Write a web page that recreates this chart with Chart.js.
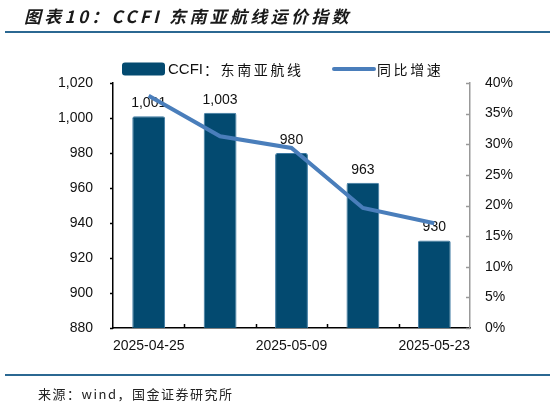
<!DOCTYPE html>
<html>
<head>
<meta charset="utf-8">
<script src="https://cdn.jsdelivr.net/npm/chart.js@4/dist/chart.umd.min.js"></script>
<style>
  html, body { margin: 0; padding: 0; background: #fff; }
  body { width: 550px; height: 406px; position: relative; overflow: hidden; }
  #title { position: absolute; left: 24px; top: 3px; font-family: "Noto Sans CJK SC", sans-serif; font-weight: bold; font-style: italic; font-size: 17px; letter-spacing: 3.3px; color: #1a1a1a; white-space: nowrap; }
  .rule { position: absolute; left: 5px; width: 545px; height: 2px; background: #2B6892; }
  #src { position: absolute; left: 38px; top: 384px; font-family: "Noto Sans CJK SC", sans-serif; font-size: 13px; letter-spacing: 1.5px; color: #222; white-space: nowrap; }
  #wrap { position: absolute; left: 0; top: 0; width: 550px; height: 406px; }
</style>
</head>
<body>
<div id="wrap"><canvas id="c"></canvas></div>
<div id="title">图表10：CCFI 东南亚航线运价指数</div>
<div class="rule" style="top:31px"></div>
<div class="rule" style="top:374px"></div>
<div id="src">来源：wind，国金证券研究所</div>
<script>
const categories = ['2025-04-25', '2025-05-02', '2025-05-09', '2025-05-16', '2025-05-23'];
const ccfiValues = [1001, 1003, 980, 963, 930];
const yoyValues = [37.9, 31.3, 29.4, 19.6, 17.1];
const leftTicks = [880, 900, 920, 940, 960, 980, 1000, 1020];
const rightTicks = [0, 5, 10, 15, 20, 25, 30, 35, 40];
const barName = 'CCFI：东南亚航线';
const lineName = '同比增速';

const BAR = '#034A70';
const LINE = '#4A7EBB';
const tickFont = { family: '"Liberation Sans", Arial, sans-serif', size: 14 };

const fmt = v => v.toLocaleString('en-US');

const decor = {
  id: 'decor',
  afterDatasetDraw(chart, args) {
    if (args.index !== 0) return;
    const ctx = chart.ctx;
    const meta = chart.getDatasetMeta(0);
    ctx.save();
    ctx.font = '14px "Liberation Sans", Arial, sans-serif';
    ctx.fillStyle = '#111';
    ctx.textAlign = 'center';
    ctx.textBaseline = 'bottom';
    meta.data.forEach((el, i) => {
      ctx.fillText(fmt(ccfiValues[i]), el.x, el.y - 6);
    });
    ctx.restore();
  },
  afterDraw(chart) {
    const ctx = chart.ctx;
    const ya = chart.scales.y, yb = chart.scales.y1, xs = chart.scales.x;
    const area = chart.chartArea;
    ctx.save();
    ctx.strokeStyle = '#000'; ctx.lineWidth = 1.5;
    leftTicks.forEach(v => {
      const y = Math.round(ya.getPixelForValue(v)) + 0.5;
      ctx.beginPath(); ctx.moveTo(area.left - 3, y); ctx.lineTo(area.left, y); ctx.stroke();
    });
    ctx.strokeStyle = '#999'; ctx.lineWidth = 1.5;
    rightTicks.forEach(v => {
      const y = Math.round(yb.getPixelForValue(v)) + 0.5;
      ctx.beginPath(); ctx.moveTo(area.right - 4, y); ctx.lineTo(area.right, y); ctx.stroke();
    });
    ctx.strokeStyle = '#000'; ctx.lineWidth = 1.5;
    for (let i = 0; i < categories.length - 1; i++) {
      const x = Math.round(xs.getPixelForValue(i + 0.5)) + 0.5;
      ctx.beginPath(); ctx.moveTo(x, area.bottom); ctx.lineTo(x, area.bottom - 4); ctx.stroke();
    }
    ctx.fillStyle = BAR;
    ctx.beginPath();
    if (ctx.roundRect) ctx.roundRect(122, 62.5, 43, 13, 3); else ctx.rect(122, 62.5, 43, 13);
    ctx.fill();
    ctx.strokeStyle = LINE; ctx.lineWidth = 4; ctx.lineCap = 'round';
    ctx.beginPath(); ctx.moveTo(334, 69); ctx.lineTo(374, 69); ctx.stroke();
    ctx.fillStyle = '#111';
    ctx.textBaseline = 'middle';
    ctx.textAlign = 'left';
    ctx.font = '15px "Liberation Sans", Arial, sans-serif';
    ctx.fillText('CCFI', 168, 69.5);
    ctx.font = '14px "Noto Sans CJK SC", sans-serif';
    const barChars = Array.from(barName.slice(4));
    barChars.forEach((ch, i) => ctx.fillText(ch, 204 + i * 16.6, 69.5));
    Array.from(lineName).forEach((ch, i) => ctx.fillText(ch, 377 + i * 16.6, 69.5));
    ctx.restore();
  }
};

new Chart(document.getElementById('c'), {
  data: {
    labels: categories,
    datasets: [
      {
        type: 'bar', label: barName, data: ccfiValues, yAxisID: 'y', order: 1,
        backgroundColor: BAR, borderColor: '#3D79A2', borderWidth: 1, borderRadius: 2,
        barPercentage: 0.46, categoryPercentage: 1.0
      },
      {
        type: 'line', label: lineName, data: yoyValues, yAxisID: 'y1', order: 0,
        borderColor: LINE, borderWidth: 4, pointRadius: 0, tension: 0, fill: false
      }
    ]
  },
  options: {
    responsive: true, maintainAspectRatio: false, animation: false,
    devicePixelRatio: 1,
    layout: { padding: { top: 83, bottom: 38, left: 0, right: 0 } },
    plugins: { legend: { display: false }, tooltip: { enabled: false }, title: { display: false } },
    scales: {
      x: {
        offset: true,
        grid: { display: false, drawTicks: false },
        border: { display: true, color: '#000', width: 1.5 },
        ticks: {
          autoSkip: false, maxRotation: 0, padding: 10, color: '#111', font: tickFont,
          callback: function (v, i) { return i % 2 === 0 ? categories[i] : ''; }
        },
        afterFit(s) { s.height = 40; }
      },
      y: {
        position: 'left', min: 880, max: 1020,
        afterBuildTicks(s) { s.ticks = leftTicks.map(v => ({ value: v })); },
        grid: { display: false, drawTicks: false },
        border: { display: true, color: '#000', width: 1.5 },
        ticks: { padding: 20, color: '#111', font: tickFont, callback: v => fmt(v) },
        afterFit(s) { s.width = 113; }
      },
      y1: {
        position: 'right', min: 0, max: 40,
        afterBuildTicks(s) { s.ticks = rightTicks.map(v => ({ value: v })); },
        grid: { display: false, drawTicks: false },
        border: { display: true, color: '#999', width: 1.5 },
        ticks: { padding: 15, color: '#111', font: tickFont, callback: v => v + '%' },
        afterFit(s) { s.width = 80; }
      }
    }
  },
  plugins: [decor]
});
</script>
</body>
</html>
